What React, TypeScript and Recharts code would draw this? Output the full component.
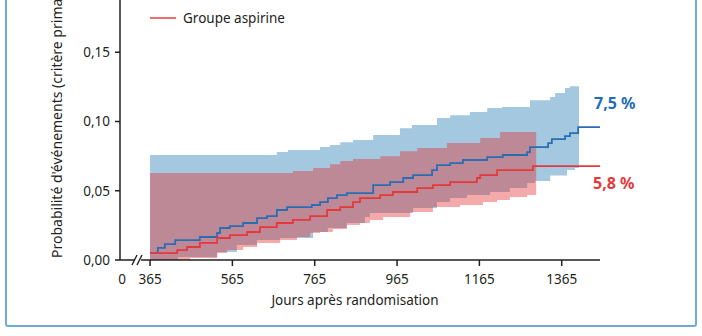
import React from 'react';
import { ComposedChart, Line, Area, XAxis, YAxis, Label } from 'recharts';

const FONT = '"Noto Sans", "Open Sans", sans-serif';

// x axis: "0" sits just right of the y axis, then the break
const xTicks = [297, 365, 565, 765, 965, 1165, 1365];
const yTicks = [0, 0.05, 0.1, 0.15];

// blue group (Kaplan-Meier estimate)
const blueDays = [365, 384, 401, 426, 486, 528, 535, 559, 591, 625, 649, 673, 698, 758, 778, 797, 819, 843, 907, 948, 980, 1004, 1050, 1062, 1094, 1125, 1184, 1222, 1281, 1288, 1332, 1341, 1373, 1385, 1405, 1458];
const blueRisk = [0.005, 0.0087, 0.0115, 0.0144, 0.0166, 0.0195, 0.0231, 0.0245, 0.0267, 0.0303, 0.0317, 0.0361, 0.0382, 0.0397, 0.0418, 0.0447, 0.0469, 0.0483, 0.0541, 0.0563, 0.0592, 0.0613, 0.0649, 0.0685, 0.07, 0.0722, 0.0743, 0.0758, 0.0779, 0.0815, 0.0844, 0.0873, 0.0895, 0.0916, 0.096, 0.096];

// aspirine group
const redDays = [365, 431, 455, 486, 528, 559, 601, 632, 673, 712, 754, 795, 827, 858, 875, 924, 955, 1014, 1052, 1094, 1159, 1167, 1208, 1295, 1458];
const redRisk = [0.005, 0.0072, 0.0094, 0.0123, 0.0159, 0.018, 0.0202, 0.0238, 0.0267, 0.0289, 0.0317, 0.0361, 0.0382, 0.0418, 0.0447, 0.0469, 0.0491, 0.0519, 0.0541, 0.0563, 0.0592, 0.0613, 0.0649, 0.0678, 0.0678];

// confidence bands
const blueHiDays = [365, 673, 700, 778, 802, 827, 858, 907, 972, 1001, 1062, 1094, 1142, 1184, 1220, 1288, 1337, 1349, 1373, 1385, 1407];
const blueHi = [0.0758, 0.0779, 0.0794, 0.0815, 0.083, 0.0851, 0.0866, 0.0902, 0.0952, 0.0974, 0.1025, 0.1046, 0.1068, 0.1097, 0.1104, 0.1154, 0.1176, 0.1205, 0.1241, 0.1255, 0.1255];
const blueLoDays = [365, 433, 528, 576, 625, 681, 761, 797, 843, 887, 899, 1004, 1062, 1094, 1135, 1191, 1239, 1281, 1300, 1337, 1378, 1397, 1407];
const blueLo = [0, 0.0022, 0.0058, 0.0108, 0.0144, 0.0159, 0.0202, 0.0231, 0.0267, 0.031, 0.0339, 0.0375, 0.0418, 0.0447, 0.0469, 0.0491, 0.0519, 0.0556, 0.057, 0.061, 0.065, 0.0664, 0.0664];

const redHiDays = [365, 712, 761, 802, 827, 858, 924, 972, 1014, 1086, 1167, 1215, 1303];
const redHi = [0.0628, 0.0642, 0.0664, 0.0692, 0.0714, 0.0729, 0.075, 0.0786, 0.0808, 0.0844, 0.088, 0.0924, 0.0924];
const redLoDays = [365, 462, 528, 552, 591, 625, 681, 722, 754, 778, 809, 843, 875, 899, 931, 997, 1052, 1118, 1174, 1208, 1239, 1281, 1303];
const redLo = [0, 0.0015, 0.0051, 0.0072, 0.0094, 0.0123, 0.0144, 0.0166, 0.0195, 0.0202, 0.0224, 0.0253, 0.0267, 0.0289, 0.031, 0.0346, 0.0382, 0.0397, 0.0418, 0.0433, 0.0455, 0.0469, 0.0469];

const stepAt = (days: number[], vals: number[], d: number) => {
  let v = vals[0];
  days.forEach((x, i) => { if (x <= d) v = vals[i]; });
  return v;
};

const curve = (days: number[], vals: number[]) => days.map((day, i) => ({ day, risk: vals[i] }));

const band = (loD: number[], lo: number[], hiD: number[], hi: number[]) =>
  Array.from(new Set([...loD, ...hiD]))
    .sort((a, b) => a - b)
    .map((day) => ({ day, range: [stepAt(loD, lo, day), stepAt(hiD, hi, day)] }));

const blueLine = curve(blueDays, blueRisk);
const redLine = curve(redDays, redRisk);
const blueBand = band(blueLoDays, blueLo, blueHiDays, blueHi);
const redBand = band(redLoDays, redLo, redHiDays, redHi);

const INK = '#231f20';

const XTick = ({ x, y, payload }: { x: number; y: number; payload: { value: number } }) => (
  <g>
    {payload.value !== 297 && <line x1={x} x2={x} y1={y - 14} y2={y - 8} stroke={INK} strokeWidth={1.5} />}
    <text x={x} y={y} dy="0.71em" textAnchor="middle" fill={INK} fontSize={13.5} fontFamily={FONT}>
      {payload.value === 297 ? '0' : payload.value}
    </text>
  </g>
);

export default function App() {
  return (
    <div style={{ position: 'absolute', left: 0, top: 0, width: 702, height: 336, overflow: 'hidden', background: '#fff', fontFamily: FONT }}>
      {/* frame */}
      <div style={{
        position: 'absolute', left: 5, top: -10, width: 692, height: 337,
        boxSizing: 'border-box', border: '2px solid #72a9db', borderRadius: 3,
      }} />

      <div style={{ position: 'absolute', left: 0, top: -27 }}>
        <ComposedChart width={702} height={363} margin={{ top: 10, right: 102, bottom: 0, left: 0 }}>
          <XAxis type="number" dataKey="day" domain={[292, 1458]} ticks={xTicks} interval={0} allowDataOverflow
            height={76} stroke={INK} strokeWidth={1.5} tickLine={false} tickSize={6} tickMargin={8}
            tick={(p: any) => <XTick {...p} />}>
            <Label value="Jours après randomisation" position="insideBottom" offset={31} dx={-5}
              fill={INK} fontSize={13.5} fontFamily={FONT} />
          </XAxis>
          <YAxis type="number" domain={[0, 0.2]} ticks={yTicks} interval={0} width={120} allowDataOverflow
            stroke={INK} strokeWidth={1.5} tickSize={5} tickMargin={5}
            tick={{ fill: INK, fontSize: 13.5, fontFamily: FONT }}
            tickFormatter={(v: number) => v.toFixed(2).replace('.', ',')}>
            <Label content={() => (
              <text x={62} y={285} transform="rotate(-90 62 285)" textAnchor="start"
                fill={INK} fontSize={14} fontFamily={FONT}>
                Probabilité d'événements (critère primaire)
              </text>
            )} />
          </YAxis>

          <Area data={blueBand} dataKey="range" type="stepAfter" stroke="none"
            fill="#a4c8e0" fillOpacity={1} isAnimationActive={false} />
          <Area data={redBand} dataKey="range" type="stepAfter" stroke="none"
            fill="#e42a2a" fillOpacity={0.4} isAnimationActive={false} />
          <Line data={blueLine} dataKey="risk" type="stepAfter" stroke="#2a6db3" strokeWidth={1.8}
            dot={false} isAnimationActive={false} />
          <Line data={redLine} dataKey="risk" type="stepAfter" stroke="#e5383b" strokeWidth={1.8}
            dot={false} isAnimationActive={false} />
        </ComposedChart>
      </div>

      {/* axis break + end labels */}
      <svg width={702} height={336} style={{ position: 'absolute', left: 0, top: 0, pointerEvents: 'none' }}>
        <rect x={135} y={257} width={6} height={6} fill="#fff" />
        <line x1={132} y1={265} x2={137} y2={255} stroke={INK} strokeWidth={1.4} />
        <line x1={137} y1={265} x2={142} y2={255} stroke={INK} strokeWidth={1.4} />
        <text x={594} y={109} fill="#1f6db5" fontSize={16} fontWeight={700} fontFamily={FONT}>7,5 %</text>
        <text x={593} y={189} fill="#e5383b" fontSize={16} fontWeight={700} fontFamily={FONT}>5,8 %</text>
      </svg>

      {/* legend */}
      <div style={{ position: 'absolute', left: 150, top: 9, display: 'flex', alignItems: 'center', gap: 7 }}>
        <div style={{ width: 26, height: 2, background: '#ee6e70' }} />
        <span style={{ fontSize: 13.5, color: INK }}>Groupe aspirine</span>
      </div>
    </div>
  );
}
